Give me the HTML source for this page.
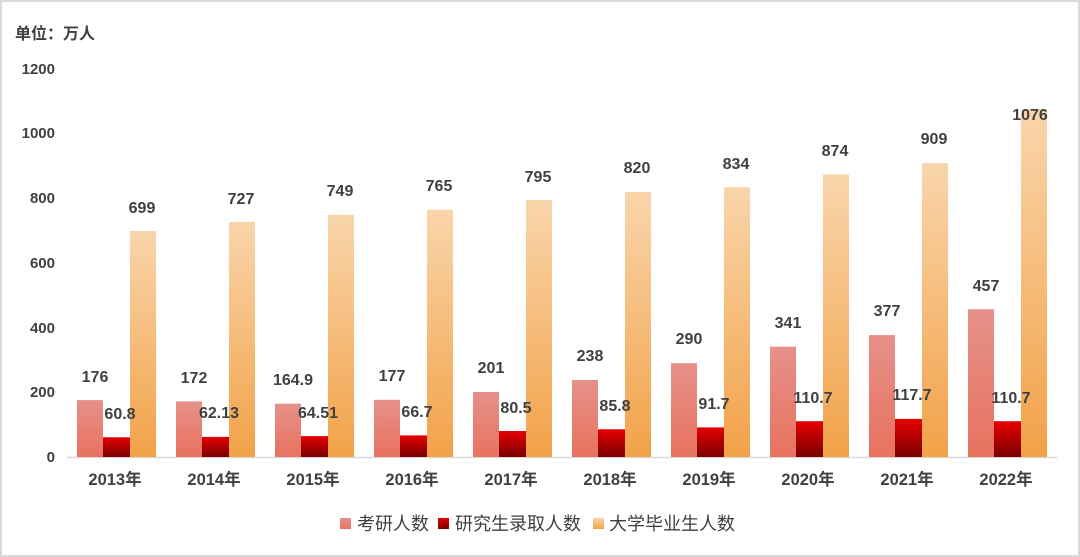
<!DOCTYPE html>
<html><head><meta charset="utf-8"><style>
html,body{margin:0;padding:0;background:#fff}
svg{display:block}
text{font-family:"Liberation Sans","Noto Sans CJK SC",sans-serif;font-weight:bold;fill:#404040}
</style></head><body>
<svg width="1080" height="557" viewBox="0 0 1080 557" xmlns="http://www.w3.org/2000/svg">
<defs>
<linearGradient id="g1" x1="0" y1="0" x2="0" y2="1"><stop offset="0" stop-color="#e6918a"/><stop offset="1" stop-color="#e8725f"/></linearGradient>
<linearGradient id="g2" x1="0" y1="0" x2="0" y2="1"><stop offset="0" stop-color="#e60000"/><stop offset="1" stop-color="#7a0000"/></linearGradient>
<linearGradient id="g3" x1="0" y1="0" x2="0" y2="1"><stop offset="0" stop-color="#f9d5ab"/><stop offset="1" stop-color="#f2a248"/></linearGradient>
</defs>
<rect x="1" y="1" width="1078" height="555" fill="#fff" stroke="#d9d9d9" stroke-width="2"/>
<text x="15" y="39" font-size="16">单位：万人</text>
<g font-size="15" text-anchor="end">
<text x="55" y="462">0</text><text x="55" y="397">200</text><text x="55" y="333">400</text><text x="55" y="268">600</text><text x="55" y="203">800</text><text x="55" y="138">1000</text><text x="55" y="74">1200</text>
</g>
<line x1="67" y1="457.5" x2="1057" y2="457.5" stroke="#d9d9d9" stroke-width="1.5"/>
<g>
<rect x="77" y="400.1" width="26" height="56.9" fill="url(#g1)"/><rect x="103" y="437.3" width="27" height="19.7" fill="url(#g2)"/><rect x="130" y="231" width="26" height="226" fill="url(#g3)"/>
<rect x="176" y="401.4" width="26" height="55.6" fill="url(#g1)"/><rect x="202" y="436.9" width="27" height="20.1" fill="url(#g2)"/><rect x="229" y="221.9" width="26" height="235.1" fill="url(#g3)"/>
<rect x="275" y="403.7" width="26" height="53.3" fill="url(#g1)"/><rect x="301" y="436.1" width="27" height="20.9" fill="url(#g2)"/><rect x="328" y="214.8" width="26" height="242.2" fill="url(#g3)"/>
<rect x="374" y="399.8" width="26" height="57.2" fill="url(#g1)"/><rect x="400" y="435.4" width="27" height="21.6" fill="url(#g2)"/><rect x="427" y="209.7" width="26" height="247.3" fill="url(#g3)"/>
<rect x="473" y="392" width="26" height="65" fill="url(#g1)"/><rect x="499" y="431" width="27" height="26" fill="url(#g2)"/><rect x="526" y="200" width="26" height="257" fill="url(#g3)"/>
<rect x="572" y="380" width="26" height="77" fill="url(#g1)"/><rect x="598" y="429.3" width="27" height="27.7" fill="url(#g2)"/><rect x="625" y="191.9" width="26" height="265.1" fill="url(#g3)"/>
<rect x="671" y="363.2" width="26" height="93.8" fill="url(#g1)"/><rect x="697" y="427.4" width="27" height="29.6" fill="url(#g2)"/><rect x="724" y="187.3" width="26" height="269.7" fill="url(#g3)"/>
<rect x="770" y="346.7" width="26" height="110.3" fill="url(#g1)"/><rect x="796" y="421.2" width="27" height="35.8" fill="url(#g2)"/><rect x="823" y="174.4" width="26" height="282.6" fill="url(#g3)"/>
<rect x="869" y="335.1" width="26" height="121.9" fill="url(#g1)"/><rect x="895" y="418.9" width="27" height="38.1" fill="url(#g2)"/><rect x="922" y="163.1" width="26" height="293.9" fill="url(#g3)"/>
<rect x="968" y="309.2" width="26" height="147.8" fill="url(#g1)"/><rect x="994" y="421.2" width="27" height="35.8" fill="url(#g2)"/><rect x="1021" y="109.1" width="26" height="347.9" fill="url(#g3)"/>
</g>
<g font-size="16" text-anchor="middle">
<text x="95" y="382">176</text><text x="120" y="419">60.8</text><text x="142" y="213">699</text>
<text x="194" y="383">172</text><text x="219" y="418">62.13</text><text x="241" y="204">727</text>
<text x="293" y="385">164.9</text><text x="318" y="418">64.51</text><text x="340" y="196">749</text>
<text x="392" y="381">177</text><text x="417" y="417">66.7</text><text x="439" y="191">765</text>
<text x="491" y="373">201</text><text x="516" y="413">80.5</text><text x="538" y="182">795</text>
<text x="590" y="361">238</text><text x="615" y="411">85.8</text><text x="637" y="173">820</text>
<text x="689" y="344">290</text><text x="714" y="409">91.7</text><text x="736" y="169">834</text>
<text x="788" y="328">341</text><text x="813" y="403">110.7</text><text x="835" y="156">874</text>
<text x="887" y="316">377</text><text x="912" y="400">117.7</text><text x="934" y="144">909</text>
<text x="986" y="291">457</text><text x="1011" y="403">110.7</text><text x="1030" y="120">1076</text>
</g>
<g font-size="16.5" text-anchor="middle">
<text x="115" y="485">2013年</text><text x="214" y="485">2014年</text><text x="313" y="485">2015年</text><text x="412" y="485">2016年</text><text x="511" y="485">2017年</text><text x="610" y="485">2018年</text><text x="709" y="485">2019年</text><text x="808" y="485">2020年</text><text x="907" y="485">2021年</text><text x="1006" y="485">2022年</text>
</g>
<g font-size="18">
<rect x="340" y="518" width="11" height="11" fill="url(#g1)"/><text x="357" y="530" style="font-weight:normal">考研人数</text>
<rect x="438" y="518" width="11" height="11" fill="url(#g2)"/><text x="455" y="530" style="font-weight:normal">研究生录取人数</text>
<rect x="593" y="518" width="11" height="11" fill="url(#g3)"/><text x="609" y="530" style="font-weight:normal">大学毕业生人数</text>
</g>
</svg>
</body></html>
